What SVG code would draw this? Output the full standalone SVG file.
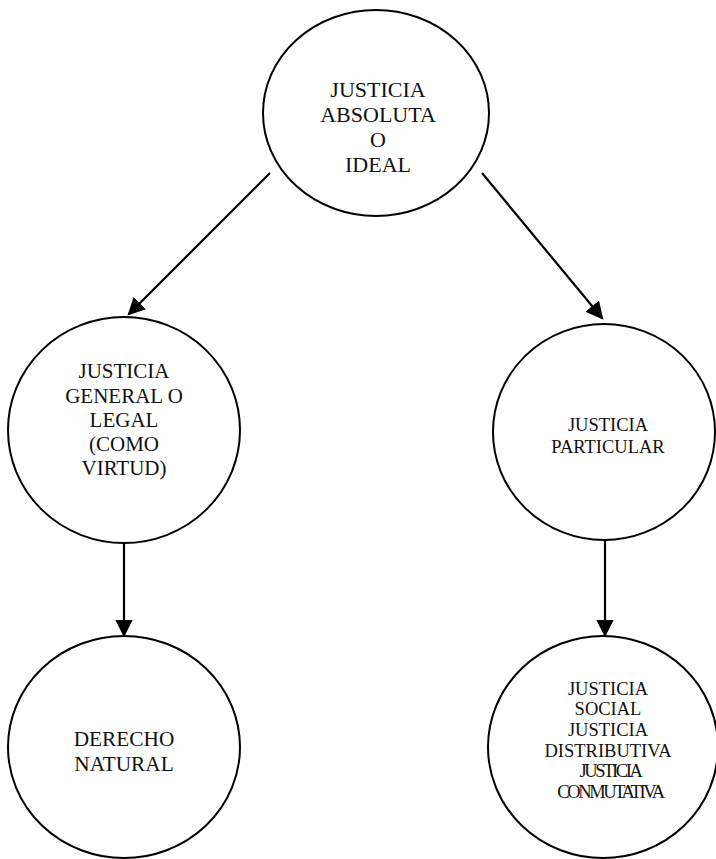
<svg xmlns="http://www.w3.org/2000/svg" width="716" height="859" viewBox="0 0 716 859">
<style>
.n{fill:#fff;stroke:#000;stroke-width:2}
.t{font-family:"Liberation Serif","Times New Roman",serif;fill:#111;text-anchor:middle}
.c{stroke:#000;stroke-width:2.2;fill:none;marker-end:url(#ah)}
.sq{letter-spacing:-2.4px}
</style>
<defs>
<marker id="ah" markerWidth="8" markerHeight="8" refX="7" refY="4" orient="auto" markerUnits="strokeWidth" viewBox="0 0 8 8">
<path d="M0,0 L8,4 L0,8 Z" fill="#000"/>
</marker>
</defs>
<rect width="716" height="859" fill="#fff"/>
<g id="connectors">
<line class="c" x1="270" y1="173" x2="129" y2="314"/>
<line class="c" x1="482" y1="173" x2="602" y2="318"/>
<line class="c" x1="124" y1="542" x2="124" y2="635"/>
<line class="c" x1="605" y1="540" x2="605" y2="635"/>
</g>
<g id="n-absoluta">
<ellipse class="n" cx="376" cy="113" rx="113" ry="103"/>
<text class="t" font-size="22"><tspan x="378" y="97">JUSTICIA</tspan><tspan x="378" y="122">ABSOLUTA</tspan><tspan x="378" y="147">O</tspan><tspan x="378" y="172">IDEAL</tspan></text>
</g>
<g id="n-general">
<ellipse class="n" cx="124" cy="430" rx="116" ry="113"/>
<text class="t" font-size="21"><tspan x="124" y="378">JUSTICIA</tspan><tspan x="124" y="403">GENERAL O</tspan><tspan x="124" y="427">LEGAL</tspan><tspan x="124" y="451">(COMO</tspan><tspan x="124" y="475">VIRTUD)</tspan></text>
</g>
<g id="n-particular">
<ellipse class="n" cx="604" cy="432" rx="111" ry="108"/>
<text class="t" font-size="18.5"><tspan x="608" y="431">JUSTICIA</tspan><tspan x="608" y="453">PARTICULAR</tspan></text>
</g>
<g id="n-derecho">
<ellipse class="n" cx="124" cy="747" rx="116" ry="111"/>
<text class="t" font-size="21.3"><tspan x="124" y="746">DERECHO</tspan><tspan x="124" y="771">NATURAL</tspan></text>
</g>
<g id="n-social">
<ellipse class="n" cx="603" cy="747" rx="115" ry="111"/>
<text class="t" font-size="18.5"><tspan x="608" y="695">JUSTICIA</tspan><tspan x="608" y="715">SOCIAL</tspan><tspan x="608" y="736">JUSTICIA</tspan><tspan x="608" y="757">DISTRIBUTIVA</tspan><tspan x="610" y="777" class="sq">JUSTICIA</tspan><tspan x="610" y="798" class="sq">CONMUTATIVA</tspan></text>
</g>
</svg>
